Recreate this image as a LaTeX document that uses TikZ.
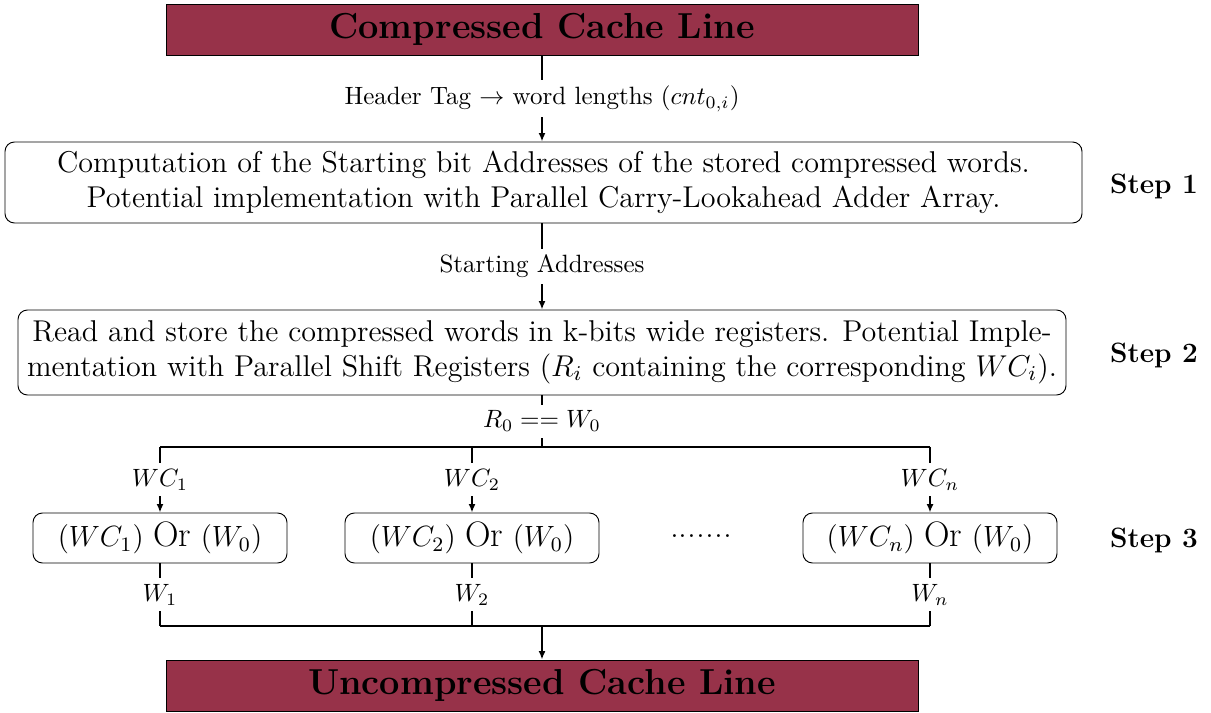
\documentclass[tikz,border=0pt]{standalone}
\usepackage{fix-cm}
\usetikzlibrary{arrows.meta}
\definecolor{maroonfill}{RGB}{151,50,73}
\newcommand\pxu{0.4237pt}
\begin{document}
\begin{tikzpicture}[x=0.4237pt,y=-0.4237pt,
  cacheline/.style={draw=black, fill=maroonfill, minimum width=752*\pxu, minimum height=51*\pxu, inner sep=0pt, font=\fontsize{15.3}{18}\selectfont\bfseries},
  stepbox/.style={draw=black, rounded corners=4pt, align=center, inner sep=0pt, font=\fontsize{12.75}{14.6}\selectfont},
  orbox/.style={draw=black, rounded corners=4pt, minimum width=254*\pxu, minimum height=50*\pxu, inner sep=0pt, font=\fontsize{12.4}{14.5}\selectfont},
  steplabel/.style={font=\fontsize{11.85}{14}\selectfont\bfseries},
  conn/.style={line width=1pt},
  arr/.style={line width=1pt, -{Latex[length=3.6pt,width=3pt]}},
  lbl/.style={fill=white, inner sep=2.5pt, font=\fontsize{10.6}{12}\selectfont},
  bigtxt/.style={font=\fontsize{15}{17}\selectfont}
]
\useasboundingbox (0,0) rectangle (1211,713);

\node[cacheline] (top) at (542,29.5) {Compressed Cache Line};
\node[stepbox, minimum width=1077*\pxu, minimum height=81*\pxu] (s1) at (543.5,182.5)
  {Computation of the Starting bit Addresses of the stored compressed words.\\Potential implementation with Parallel Carry-Lookahead Adder Array.};
\node[stepbox, minimum width=1048*\pxu, minimum height=85*\pxu] (s2) at (542,352.5)
  {Read and store the compressed words in k-bits wide registers. Potential Imple-\\mentation with Parallel Shift Registers ($R_i$ containing the corresponding $WC_i$).};

\node[orbox] (o1) at (160,538) {$(WC_1)$ {\fontsize{15}{17}\selectfont Or} $(W_0)$};
\node[orbox] (o2) at (472,538) {$(WC_2)$ {\fontsize{15}{17}\selectfont Or} $(W_0)$};
\node[orbox] (o3) at (930,538) {$(WC_n)$ {\fontsize{15}{17}\selectfont Or} $(W_0)$};
\node[bigtxt] (dots) at (701,536) {.......};

\node[cacheline] (bot) at (542,685.5) {Uncompressed Cache Line};

\node[steplabel] (st1) at (1154,186) {Step 1};
\node[steplabel] (st2) at (1154,355) {Step 2};
\node[steplabel] (st3) at (1154,540) {Step 3};

\coordinate (b0) at (542,447);
\coordinate (b1) at (160,447);
\coordinate (b2) at (472,447);
\coordinate (b3) at (930,447);
\coordinate (m0) at (542,626);
\coordinate (m1) at (160,626);
\coordinate (m2) at (472,626);
\coordinate (m3) at (930,626);

\draw[arr] (top.south) -- node[lbl] {Header Tag $\rightarrow$ word lengths ($cnt_{0,i}$)} (s1.north -| top.south);
\draw[arr] (s1.south -| top.south) -- node[lbl] {Starting Addresses} (s2.north);
\draw[conn] (s2.south) -- node[lbl] {$R_0 == W_0$} (b0);
\draw[conn] (b1) -- (b3);
\draw[arr] (b1) -- node[lbl] {$WC_1$} (o1.north);
\draw[arr] (b2) -- node[lbl] {$WC_2$} (o2.north);
\draw[arr] (b3) -- node[lbl] {$WC_n$} (o3.north);
\draw[conn] (o1.south) -- node[lbl] {$W_1$} (m1);
\draw[conn] (o2.south) -- node[lbl] {$W_2$} (m2);
\draw[conn] (o3.south) -- node[lbl] {$W_n$} (m3);
\draw[conn] (m1) -- (m3);
\draw[arr] (m0) -- (bot.north);
\end{tikzpicture}
\end{document}
